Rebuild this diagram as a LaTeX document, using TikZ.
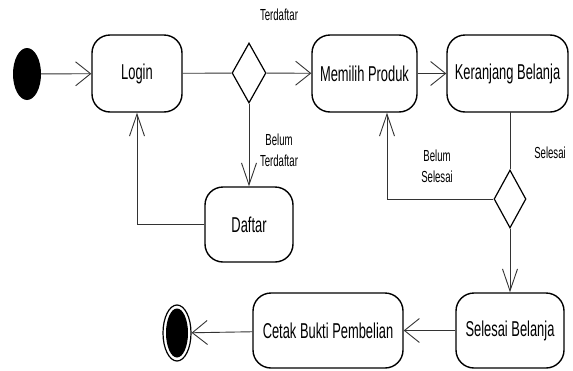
\documentclass[tikz,border=0pt]{standalone}
\usepackage{fontspec}
\setmainfont{Liberation Sans}[FakeStretch=0.6]
\usetikzlibrary{arrows.meta,shapes.geometric}
\begin{document}
\begin{tikzpicture}[x=1pt,y=-1pt,
  act/.style={draw=black, line width=1.4pt, rounded corners=18pt, inner sep=0pt,
    font=\fontsize{21.5}{24}\selectfont},
  dec/.style={draw=black, line width=1.2pt, diamond, inner sep=0pt, minimum width=34pt, minimum height=60pt},
  conn/.style={draw=black!80, line width=0.9pt},
  harr/.style={conn, -{Straight Barb[length=15pt,width=24pt]}},
  varr/.style={conn, -{Straight Barb[length=22pt,width=15pt]}},
  lbl/.style={font=\fontsize{16}{21}\selectfont, align=center, inner sep=0pt}]
\useasboundingbox (0,0) rectangle (573,370);
% nodes
\node[ellipse, fill=black, minimum width=28pt, minimum height=52pt, inner sep=0pt] (start) at (27,74) {};
\node[act, minimum width=90pt, minimum height=77pt] (login) at (137,73.5) {Login};
\node[dec] (d1) at (249,73) {};
\node[act, minimum width=105pt, minimum height=77pt] (pilih) at (364.5,73.5) {Memilih Produk};
\node[act, minimum width=121pt, minimum height=77pt] (keranjang) at (507.5,73.5) {Keranjang Belanja};
\node[act, minimum width=88pt, minimum height=75pt] (daftar) at (249,224.5) {Daftar};
\node[dec, minimum width=32pt, minimum height=58pt] (d2) at (510,199) {};
\node[act, minimum width=108pt, minimum height=75pt] (selesai) at (510,330.5) {Selesai Belanja};
\node[act, minimum width=150pt, minimum height=75pt] (cetak) at (328,330.5) {Cetak Bukti Pembelian};
\node[ellipse, draw=black, line width=1.2pt, minimum width=28pt, minimum height=56pt, inner sep=0pt] (end) at (177,333) {};
\node[ellipse, fill=black, minimum width=22pt, minimum height=49pt, inner sep=0pt] (endin) at (177,333) {};
% labels
\node[lbl] (lterdaftar) at (279,15) {Terdaftar};
\node[lbl] (lbelumt) at (279,150) {Belum\\Terdaftar};
\node[lbl] (lselesai) at (550,153) {Selesai};
\node[lbl] (lbelums) at (437,166) {Belum\\Selesai};
% connectors
\coordinate (c1) at (137,224.5);
\coordinate (c2) at (387,199);
\coordinate (kb) at (510,112);
\draw[harr] (start) -- (login);
\draw[conn] (login) -- (d1);
\draw[harr] (d1) -- (pilih);
\draw[harr] (pilih) -- (keranjang);
\draw[varr] (d1) -- (daftar);
\draw[varr] (daftar.west) -- (c1) -- (login.south);
\draw[conn] (kb) -- (d2.north);
\draw[varr] (d2.west) -- (c2) -- (c2 |- pilih.south);
\draw[varr] (d2.south) -- (selesai.north);
\draw[harr] (selesai) -- (cetak);
\draw[harr] (cetak) -- (end);
\end{tikzpicture}
\end{document}
